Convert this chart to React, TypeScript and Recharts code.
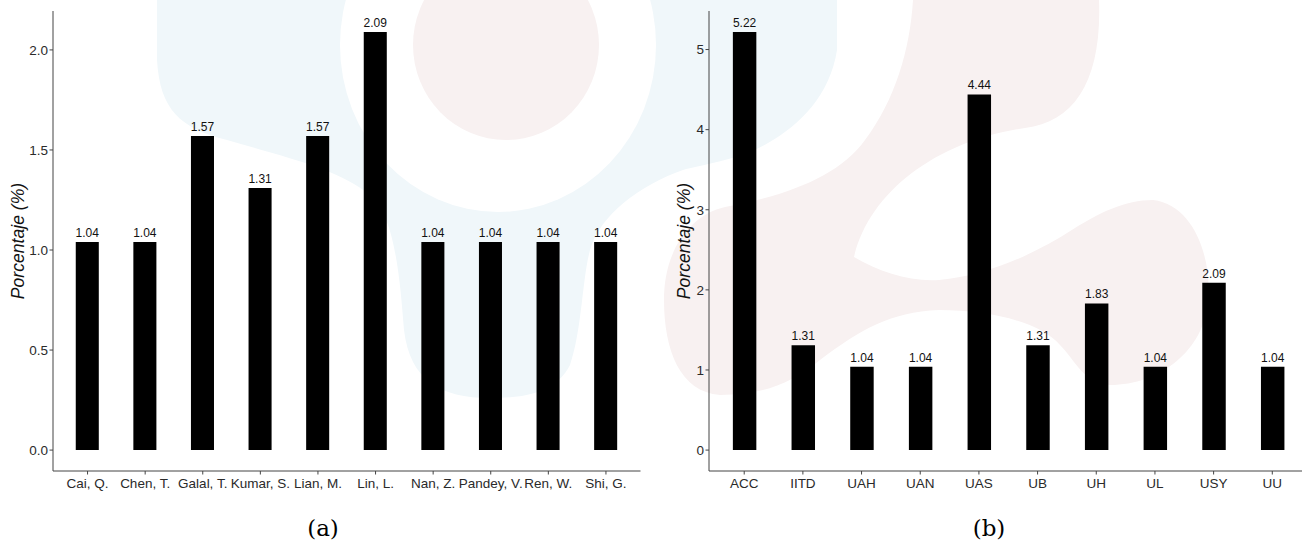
import { BarChart, Bar, XAxis, YAxis, LabelList } from 'recharts';

// (a) autores
const autores = ['Cai, Q.', 'Chen, T.', 'Galal, T.', 'Kumar, S.', 'Lian, M.', 'Lin, L.', 'Nan, Z.', 'Pandey, V.', 'Ren, W.', 'Shi, G.'];
const autoresPct = [1.04, 1.04, 1.57, 1.31, 1.57, 2.09, 1.04, 1.04, 1.04, 1.04];
const autoresTicks = [0, 0.5, 1, 1.5, 2];

// (b) instituciones
const instituciones = ['ACC', 'IITD', 'UAH', 'UAN', 'UAS', 'UB', 'UH', 'UL', 'USY', 'UU'];
const institucionesPct = [5.22, 1.31, 1.04, 1.04, 4.44, 1.31, 1.83, 1.04, 2.09, 1.04];
const institucionesTicks = [0, 1, 2, 3, 4, 5];

const SANS = '"Liberation Sans", Arial, sans-serif';
const AXIS = '#444';

function Panel({ cats, values, ticks, digits, left, plotWidth }: {
  cats: string[];
  values: number[];
  ticks: number[];
  digits: number;
  left: number;
  plotWidth: number;
}) {
  const data = cats.map((c, i) => ({ cat: c, pct: values[i] }));
  const max = Math.max(...values);
  // expansion like ggplot: 5% on y, 0.6 band on x
  const band = plotWidth / (cats.length + 0.2);
  const pad = band * 0.1;
  const width = 660;
  return (
    <div style={{ position: 'absolute', left, top: 0 }}>
      <BarChart
        width={width}
        height={542}
        data={data}
        margin={{ top: 11, right: width - 53 - plotWidth, left: 8, bottom: 41 }}
      >
        <XAxis
          dataKey="cat"
          height={30}
          interval={0}
          padding={{ left: pad, right: pad }}
          tickSize={3.5}
          tickMargin={4}
          axisLine={{ stroke: AXIS }}
          tickLine={{ stroke: AXIS }}
          tick={{ fill: '#2a2a2a', fontSize: 13.5, fontFamily: SANS }}
        />
        <YAxis
          width={45}
          type="number"
          domain={[-0.05 * max, 1.05 * max]}
          ticks={ticks}
          tickFormatter={(v: number) => v.toFixed(digits)}
          tickSize={3.5}
          tickMargin={1.5}
          axisLine={{ stroke: AXIS }}
          tickLine={{ stroke: AXIS }}
          tick={{ fill: '#2a2a2a', fontSize: 13.5, fontFamily: SANS }}
        />
        <Bar dataKey="pct" fill="#000" barSize={band * 0.4} isAnimationActive={false}>
          <LabelList
            dataKey="pct"
            position="top"
            offset={5}
            formatter={(v: number) => v.toFixed(2)}
            style={{ fill: '#111', fontSize: 12, fontFamily: SANS }}
          />
        </Bar>
      </BarChart>
    </div>
  );
}

function Watermark() {
  const blue = '#f0f7fa';
  const pink = '#f8f1f1';
  return (
    <svg width={1302} height={542} style={{ position: 'absolute', left: 0, top: 0 }}>
      <path
        d="M 157 0 L 837 0 L 837 50 C 830 95 800 125 768 143 C 740 160 700 165 683 170 C 640 185 600 215 590 250 C 582 280 582 330 570 365 C 555 395 520 398 490 398 C 440 398 410 380 404 330 C 400 280 395 215 370 195 C 340 170 290 158 227 140 C 180 128 160 110 157 60 Z"
        fill={blue}
      />
      <ellipse cx={498} cy={45} rx={158} ry={167} fill="#fff" />
      <ellipse cx={506} cy={45} rx={93} ry={95} fill={pink} />
      <path
        d="M 913 0 L 1099 0 C 1102 80 1075 122 1025 128 C 940 140 870 190 854 257 C 880 272 910 282 939 280 C 990 276 1040 250 1067 233 C 1100 212 1125 200 1153 200 C 1195 205 1212 260 1208 300 C 1205 350 1160 385 1110 385 C 1085 385 1075 360 1060 345 C 1040 322 990 310 939 310 C 890 312 860 330 820 360 C 790 385 760 395 720 395 C 680 392 664 350 664 300 C 664 250 690 215 725 207 C 790 195 840 175 865 140 C 895 100 910 50 913 0 Z"
        fill={pink}
      />
    </svg>
  );
}

export default function App() {
  const label = {
    position: 'absolute' as const,
    top: 241,
    fontFamily: SANS,
    fontStyle: 'italic',
    fontSize: 17.6,
    color: '#111',
    whiteSpace: 'nowrap' as const,
    transform: 'translate(-50%, -50%) rotate(-90deg)',
  };
  const caption = {
    position: 'absolute' as const,
    top: 528,
    fontFamily: '"DejaVu Serif", "Liberation Serif", serif',
    fontSize: 23,
    color: '#000',
    transform: 'translate(-50%, -50%)',
  };
  return (
    <div style={{ position: 'absolute', left: 0, top: 0, width: 1302, height: 542, overflow: 'hidden', background: '#fff' }}>
      <Watermark />
      <Panel cats={autores} values={autoresPct} ticks={autoresTicks} digits={1} left={0} plotWidth={587.5} />
      <Panel cats={instituciones} values={institucionesPct} ticks={institucionesTicks} digits={0} left={656} plotWidth={598.5} />
      <div style={{ ...label, left: 18 }}>Porcentaje (%)</div>
      <div style={{ ...label, left: 684 }}>Porcentaje (%)</div>
      <div style={{ ...caption, left: 323 }}>(a)</div>
      <div style={{ ...caption, left: 989 }}>(b)</div>
    </div>
  );
}
